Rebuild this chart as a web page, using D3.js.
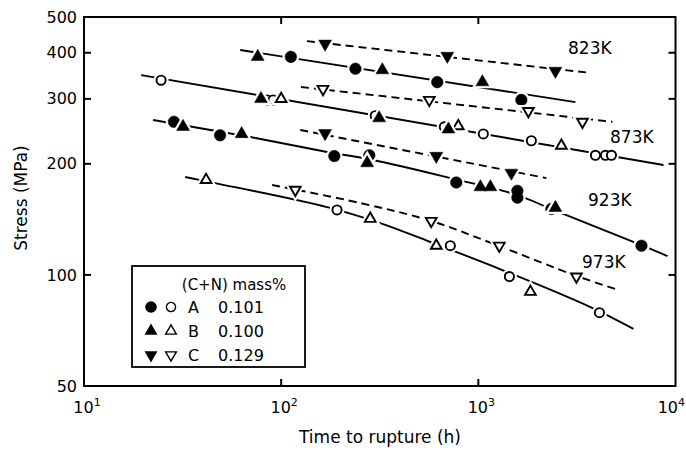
<!DOCTYPE html>
<html>
<head>
<meta charset="utf-8">
<script src="https://cdn.jsdelivr.net/npm/d3@7"></script>
<style>
  body { margin: 0; background: #fff; }
  svg { display: block; font-family: "DejaVu Sans", sans-serif; }
</style>
</head>
<body>
<svg id="chart" width="686" height="452"></svg>
<script>
const xTicks = [10, 100, 1000, 10000];
const yTicks = [50, 100, 200, 300, 400, 500];
const yInnerTicks = [100, 200, 300, 400];
const xInnerTicks = [100, 1000];

// [time to rupture (h), stress (MPa)]
// 823K
const a823 = [[112, 390], [238, 362], [619, 333], [1653, 298]];
const b823 = [[76, 390], [326, 359], [1048, 333]];
const c823 = [[167, 423], [696, 392], [2460, 357]];
const fitAB823 = [[62, 407], [3108, 294]];
const fitC823 = [[135, 430], [3660, 353]];
// 873K
const a873 = [[24.6, 337], [85, 298], [91, 298], [300, 270], [672, 252], [1060, 241], [1858, 231], [3925, 211], [4413, 211], [4733, 211]];
const b873 = [[100, 300], [791, 253], [2638, 224]];
const b873f = [[79, 300], [314, 266], [705, 248]];
const c873 = [[163, 319], [564, 298], [1794, 278], [3373, 260]];
const fitAB873 = [[19.5, 348], [8690, 198.6]];
const fitC873 = [[126, 323], [4789, 260]];
// 923K
const a923 = [[28.6, 260], [49, 239], [186, 210], [280, 211], [773, 178], [1578, 169], [1578, 162], [2348, 151], [6720, 120]];
const b923 = [[31.8, 252], [63, 241], [273, 201], [1024, 173], [1151, 173], [2460, 152]];
const c923 = [[167, 242], [612, 210], [1471, 189]];
const fitAB923 = [[22.4, 263], [69.6, 236.4], [171, 215.4], [293, 204.8], [721, 183], [1578, 164.6], [2348, 150.8], [6720, 120.5], [9107, 112.5]];
const fitC923 = [[125, 247], [2214, 183]];
// 973K
const a973 = [[192, 150], [721, 120], [1437, 99], [4114, 79]];
const b973 = [[41.6, 181], [283, 142], [612, 120], [1837, 90]];
const c973 = [[118, 170], [577, 140], [1278, 120], [3144, 99]];
const fitAB973 = [[32.6, 184.2], [46.2, 177.4], [171, 152.7], [318, 138.2], [571, 122.8], [1324, 103.1], [3703, 81.8], [6121, 71.4]];
const fitC973 = [[90, 175.3], [252, 156.6], [577, 140], [1278, 119.7], [3144, 99.4], [5137, 91]];

const tempLabels = ["823K", "873K", "923K", "973K"];
const legendLetters = ["A", "B", "C"];
const legendValues = ["0.101", "0.100", "0.129"];
const legendShapes = ["circle", "up", "down"];

const settings = {
  width: 686,
  height: 452,
  left: 84,
  right: 675.5,
  top: 17,
  bottom: 386,
  tempLabelPos: [[568, 54], [610, 143], [588, 206], [582, 268]],
};

const svg = d3.select("#chart");
const x = d3.scaleLog().domain([10, 1e4]).range([settings.left, settings.right]);
const y = d3.scaleLog().domain([50, 500]).range([settings.bottom, settings.top]);

function markerPath(shape, filled) {
  if (shape === "circle") {
    return d3.symbol().type(d3.symbolCircle).size(filled ? 106 : 66)();
  }
  return d3.symbol().type(d3.symbolTriangle).size(filled ? 72 : 50)();
}

function drawMarkers(g, pts, shape, filled) {
  const rot = shape === "down" ? " rotate(180)" : "";
  const sel = g.append("g");
  // white halo first, so the fitted line breaks around each marker
  sel
    .selectAll("path.halo")
    .data(pts)
    .join("path")
    .attr("class", "halo")
    .attr("d", markerPath(shape, filled))
    .attr("transform", (d) => `translate(${x(d[0])},${y(d[1])})${rot}`)
    .attr("fill", "white")
    .attr("stroke", "white")
    .attr("stroke-width", filled ? 5 : 6);
  sel
    .selectAll("path.mark")
    .data(pts)
    .join("path")
    .attr("class", "mark")
    .attr("d", markerPath(shape, filled))
    .attr("transform", (d) => `translate(${x(d[0])},${y(d[1])})${rot}`)
    .attr("fill", filled ? "black" : "white")
    .attr("stroke", "black")
    .attr("stroke-width", filled ? 0.5 : 1.9);
}

function drawFit(g, pts, dashed) {
  const line = d3
    .line()
    .x((d) => x(d[0]))
    .y((d) => y(d[1]))
    .curve(pts.length > 2 ? d3.curveCatmullRom : d3.curveLinear);
  g.append("path")
    .attr("d", line(pts))
    .attr("fill", "none")
    .attr("stroke", "black")
    .attr("stroke-width", 1.9)
    .attr("stroke-dasharray", dashed ? "8,5" : null);
}

// fitted lines
const fits = svg.append("g").attr("class", "fits");
[fitAB823, fitAB873, fitAB923, fitAB973].forEach((f) => drawFit(fits, f, false));
[fitC823, fitC873, fitC923, fitC973].forEach((f) => drawFit(fits, f, true));

// data points
const marks = svg.append("g").attr("class", "marks");
drawMarkers(marks, a823, "circle", true);
drawMarkers(marks, b823, "up", true);
drawMarkers(marks, c823, "down", true);
drawMarkers(marks, a873, "circle", false);
drawMarkers(marks, b873, "up", false);
drawMarkers(marks, b873f, "up", true);
drawMarkers(marks, c873, "down", false);
drawMarkers(marks, a923, "circle", true);
drawMarkers(marks, b923, "up", true);
drawMarkers(marks, c923, "down", true);
drawMarkers(marks, a973, "circle", false);
drawMarkers(marks, b973, "up", false);
drawMarkers(marks, c973, "down", false);

// frame
svg
  .append("rect")
  .attr("x", settings.left)
  .attr("y", settings.top)
  .attr("width", settings.right - settings.left)
  .attr("height", settings.bottom - settings.top)
  .attr("fill", "none")
  .attr("stroke", "black")
  .attr("stroke-width", 2);

const tickLen = 7;
svg
  .append("g")
  .attr("transform", `translate(${settings.left},0)`)
  .call(d3.axisLeft(y).tickValues(yTicks).tickFormat(d3.format("d")).tickSizeInner(0).tickSizeOuter(0).tickPadding(7))
  .call((g) => g.select(".domain").remove())
  .call((g) => g.selectAll(".tick text").attr("font-size", "16px").attr("fill", "black").attr("font-family", "DejaVu Sans"));

const innerTicks = svg.append("g").attr("class", "ticks").attr("stroke", "black").attr("stroke-width", 2);
yInnerTicks.forEach((v) => {
  innerTicks.append("line").attr("x1", settings.left).attr("x2", settings.left + tickLen).attr("y1", y(v)).attr("y2", y(v));
  innerTicks.append("line").attr("x1", settings.right).attr("x2", settings.right - tickLen).attr("y1", y(v)).attr("y2", y(v));
});
xInnerTicks.forEach((v) => {
  innerTicks.append("line").attr("x1", x(v)).attr("x2", x(v)).attr("y1", settings.top).attr("y2", settings.top + tickLen);
  innerTicks.append("line").attr("x1", x(v)).attr("x2", x(v)).attr("y1", settings.bottom).attr("y2", settings.bottom - tickLen);
});

// x tick labels with exponents; the last one is kept inside the page edge
const xl = svg.append("g").attr("class", "xlabels").attr("font-size", "16px");
xTicks.forEach((v, i) => {
  const last = i === xTicks.length - 1;
  const t = xl
    .append("text")
    .attr("x", last ? settings.width - 1 : x(v) + 3)
    .attr("y", 413)
    .attr("text-anchor", last ? "end" : "middle");
  t.append("tspan").text("10");
  t.append("tspan").attr("dy", -7).attr("font-size", "11px").text(Math.round(Math.log10(v)));
});

// axis titles
svg
  .append("text")
  .attr("x", 380)
  .attr("y", 443)
  .attr("text-anchor", "middle")
  .attr("font-size", "17px")
  .text("Time to rupture (h)");
svg
  .append("text")
  .attr("transform", "translate(27,198) rotate(-90)")
  .attr("text-anchor", "middle")
  .attr("font-size", "17px")
  .text("Stress (MPa)");

// temperature labels
svg
  .append("g")
  .selectAll("text")
  .data(tempLabels)
  .join("text")
  .attr("x", (d, i) => settings.tempLabelPos[i][0])
  .attr("y", (d, i) => settings.tempLabelPos[i][1])
  .attr("font-size", "17px")
  .text((d) => d);

// legend
const lg = svg.append("g").attr("class", "legend");
lg.append("rect")
  .attr("x", 132)
  .attr("y", 266)
  .attr("width", 173)
  .attr("height", 101)
  .attr("fill", "white")
  .attr("stroke", "black")
  .attr("stroke-width", 1.8);
lg.append("text")
  .attr("x", 234)
  .attr("y", 290)
  .attr("text-anchor", "middle")
  .attr("font-size", "15px")
  .text("(C+N) mass%");
legendLetters.forEach((l, i) => {
  const cy = 307 + i * 24;
  const rot = legendShapes[i] === "down" ? " rotate(180)" : "";
  lg.append("path")
    .attr("d", markerPath(legendShapes[i], true))
    .attr("transform", `translate(151,${cy})${rot}`)
    .attr("fill", "black");
  lg.append("path")
    .attr("d", markerPath(legendShapes[i], false))
    .attr("transform", `translate(171,${cy})${rot}`)
    .attr("fill", "white")
    .attr("stroke", "black")
    .attr("stroke-width", 1.4);
  lg.append("text").attr("x", 188).attr("y", cy + 6).attr("font-size", "16px").text(l);
  lg.append("text").attr("x", 218).attr("y", cy + 6).attr("font-size", "16px").text(legendValues[i]);
});
</script>
</body>
</html>
